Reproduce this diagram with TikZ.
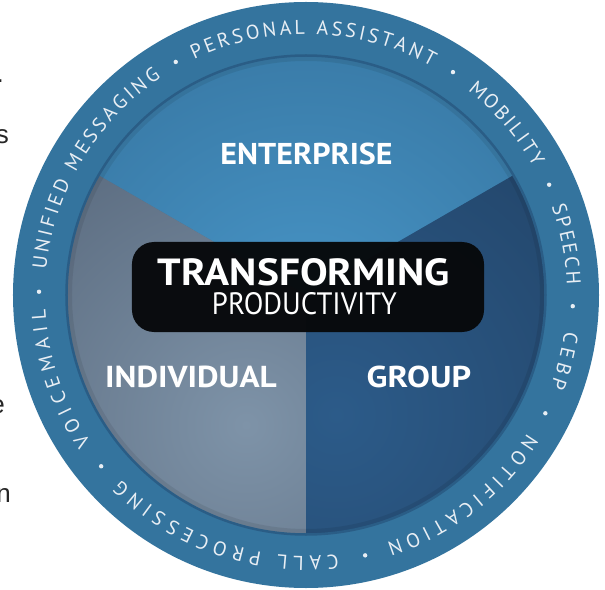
\documentclass[tikz,border=0pt]{standalone}
\usepackage{fontspec}
\setmainfont{PT Sans}
\newfontfamily\labfont{PT Sans}
\newfontfamily\sidefont{Liberation Sans}
\usetikzlibrary{decorations.text}
\definecolor{ringblue}{HTML}{34749E}
\definecolor{ringtxt}{HTML}{E8EEF4}
\definecolor{topin}{HTML}{4896C8}
\definecolor{topout}{HTML}{2D648C}
\definecolor{leftin}{HTML}{7E93A8}
\definecolor{leftout}{HTML}{56667A}
\definecolor{rightin}{HTML}{2C5B89}
\definecolor{rightout}{HTML}{1E3A5A}
\definecolor{rim}{HTML}{2A5D86}
\definecolor{boxfill}{HTML}{07090B}
\pgfdeclareradialshading{topsh}{\pgfpoint{0bp}{0bp}}{color(0bp)=(topin); color(27bp)=(topout); color(100bp)=(topout)}
\pgfdeclareradialshading{leftsh}{\pgfpoint{0bp}{0bp}}{color(0bp)=(leftin); color(18bp)=(leftout); color(100bp)=(leftout)}
\pgfdeclareradialshading{rightsh}{\pgfpoint{0bp}{0bp}}{color(0bp)=(rightin); color(26bp)=(rightout); color(100bp)=(rightout)}
\newcommand\ringfmt{\labfont\fontsize{20}{22}\selectfont\color{ringtxt}}
\tikzset{
  ringtext/.style={decorate, decoration={text along path, text align={fit to path}, text={|\ringfmt|#1}}},
  ringdot/.style={fill=ringtxt},
  seclabel/.style={text=white, inner sep=0pt, font=\labfont\bfseries},
  sidefrag/.style={anchor=base east, inner sep=0pt, text=black!85, font=\sidefont\fontsize{26}{30}\selectfont}
}
\begin{document}
\begin{tikzpicture}[x=1pt,y=1pt]
\useasboundingbox (-306,-294) rectangle (299,295);
\fill[white] (-306,-294) rectangle (299,295);
% outer ring
\fill[ringblue] (0,0) circle[radius=293pt];
% sectors
\begin{scope}
  \clip (0,0) -- (30:239pt) arc[start angle=30, end angle=150, radius=239pt] -- cycle;
  \shade[shading=topsh] (0,-40) circle[radius=500pt];
\end{scope}
\begin{scope}
  \clip (0,0) -- (150:239pt) arc[start angle=150, end angle=270, radius=239pt] -- cycle;
  \shade[shading=leftsh] (-60,-130) circle[radius=500pt];
\end{scope}
\begin{scope}
  \clip (0,0) -- (270:239pt) arc[start angle=270, end angle=390, radius=239pt] -- cycle;
  \shade[shading=rightsh] (30,-120) circle[radius=500pt];
\end{scope}
% inner rim
\draw[black, opacity=0.08, line width=5pt] (0,0) circle[radius=236.5pt];
\draw[rim, line width=2.5pt] (0,0) circle[radius=239.5pt];
% central box
\fill[boxfill, opacity=0.97, rounded corners=22pt] (-174,53) rectangle (178,-37);
\node[seclabel] (transf) at (-2,22.5) {\resizebox{292pt}{27pt}{TRANSFORMING}};
\node[text=white, inner sep=0pt, font=\labfont] (prod) at (-1.5,-9) {\resizebox{185pt}{22pt}{PRODUCTIVITY}};
% sector labels
\node[seclabel] (ent) at (0.5,141.4) {\resizebox{172pt}{21.5pt}{ENTERPRISE}};
\node[seclabel] (ind) at (-115,-82) {\resizebox{171.5pt}{21.5pt}{INDIVIDUAL}};
\node[seclabel] (grp) at (113,-82) {\resizebox{104.5pt}{21.5pt}{GROUP}};
% ring text
\path[ringtext={PERSONAL ASSISTANT}] (115.4:261pt) arc[start angle=115.4, end angle=61.2, radius=261pt];
\path[ringtext={MOBILITY}] (51.7:261pt) arc[start angle=51.7, end angle=29.3, radius=261pt];
\path[ringtext={SPEECH}] (19.8:261pt) arc[start angle=19.8, end angle=2.2, radius=261pt];
\path[ringtext={CEBP}] (-8:261pt) arc[start angle=-8, end angle=-20.6, radius=261pt];
\path[ringtext={NOTIFICATION}] (-32:261pt) arc[start angle=-32, end angle=-72, radius=261pt];
\path[ringtext={CALL PROCESSING}] (-83:261pt) arc[start angle=-83, end angle=-135, radius=261pt];
\path[ringtext={VOICEMAIL}] (214.5:261pt) arc[start angle=214.5, end angle=183.2, radius=261pt];
\path[ringtext={UNIFIED MESSAGING}] (174.5:261pt) arc[start angle=174.5, end angle=123.7, radius=261pt];
% dots
\foreach \a in {119.2, 56.6, 24.4, -2.4, -26.3, -77.2, 219.9, 179.3}
  \fill[ringdot] (\a:267pt) circle[radius=2.2pt];
% fragments of neighbouring text
\node[sidefrag] (f1) at (-302,212) {.};
\node[sidefrag] (f2) at (-297,151) {s};
\node[sidefrag] (f3) at (-301,-118) {e};
\node[sidefrag] (f4) at (-295,-207) {n};
\end{tikzpicture}
\end{document}
